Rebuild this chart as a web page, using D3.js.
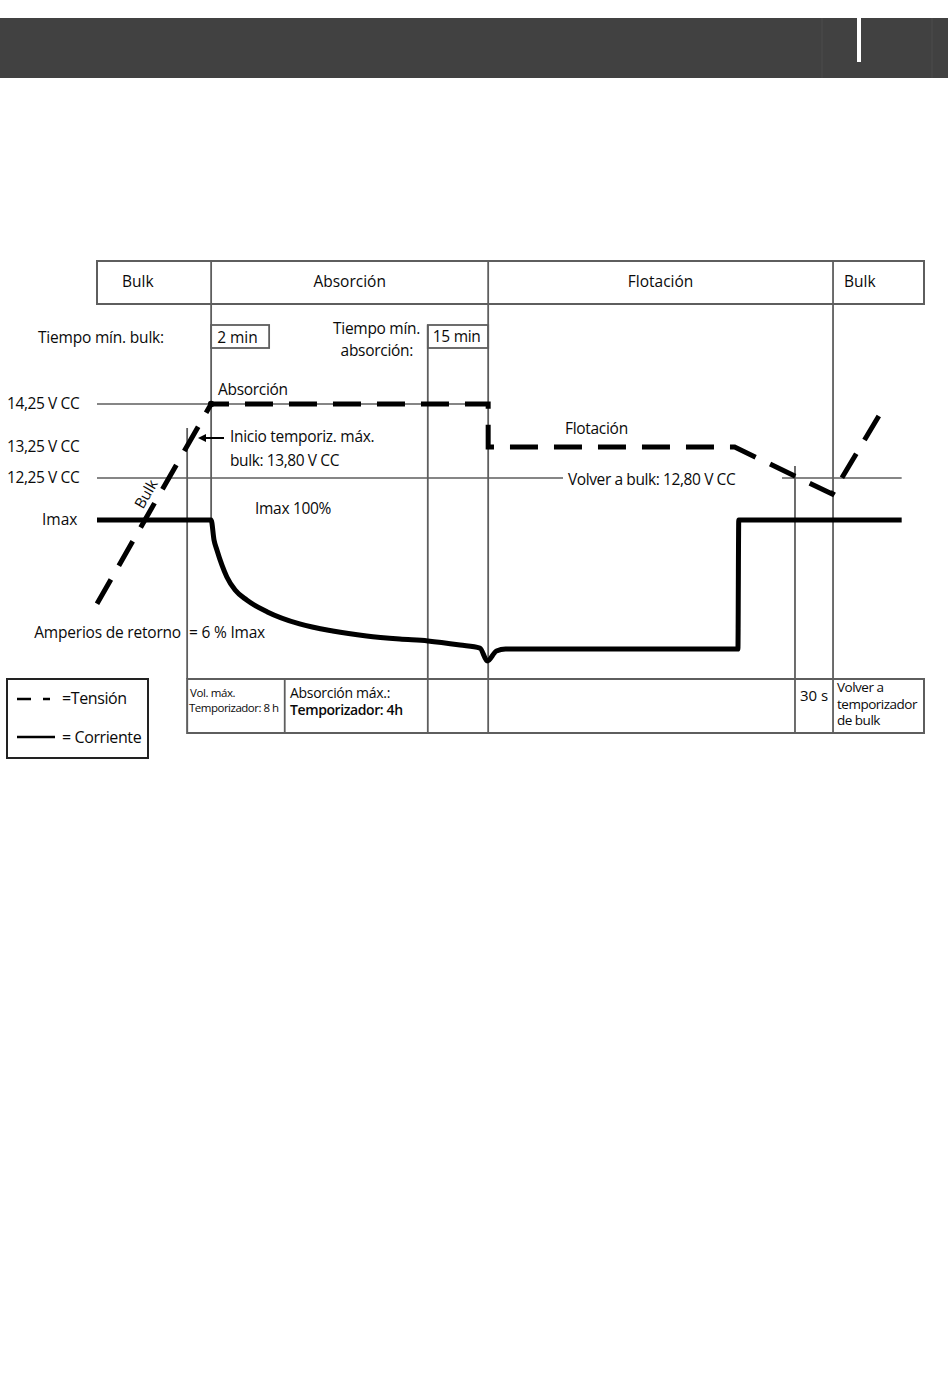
<!DOCTYPE html>
<html>
<head>
<meta charset="utf-8">
<script src="https://cdn.jsdelivr.net/npm/d3@7"></script>
<style>
  body { margin: 0; background: #fff; }
  svg text { font-family: "Open Sans", "Noto Sans", sans-serif; fill: #0a0a0a; }
</style>
</head>
<body>
<div id="chart"></div>
<script>
// stages along the time axis (time in arbitrary units 0..100)
var stageNames = ['Bulk', 'Absorción', 'Flotación', 'Bulk'];
var stageBounds = [0, 13.8, 47.3, 89.0, 100];

// voltage levels on the left
var voltLevels = [14.25, 13.25, 12.25];
var voltLabels = ['14,25 V CC', '13,25 V CC', '12,25 V CC'];

// voltage (dashed line)
var voltTime = [0, 13.8, 47.3, 47.3, 77.1, 88.9, 95.4];
var voltValue = [8.19, 14.25, 14.25, 13.25, 13.25, 11.73, 14.25];

// current in % of Imax (solid line)
var currTime = [0, 13.8, 14.15, 14.5, 15.1, 15.7, 16.7, 18.1, 20.6, 24.5, 28.5, 32.6, 36.6, 40.0, 43.9, 46.3, 47.2, 48.3, 49.4, 77.5, 77.6, 97.3];
var currPct = [100, 100, 86.2, 79.3, 69, 60.7, 51.7, 44.8, 36.6, 28.3, 23.4, 20, 17.9, 16.6, 13.8, 11.7, 2.8, 9.7, 11, 11, 100, 100];

// timer table at the bottom
var timerBounds = [10.9, 22.7, 40.0, 47.3, 84.4, 89.0, 100];

var width = 950, height = 1392;
var svg = d3.select('#chart').append('svg')
    .attr('width', width)
    .attr('height', height);

var x = d3.scaleLinear().domain([0, 100]).range([97, 924]);
var yV = d3.scaleLinear().domain([12.25, 13.25, 14.25]).range([478, 447, 404]);
var yI = d3.scaleLinear().domain([0, 100]).range([665, 520]);

var grey = '#5e5e5e';
var fs = 15.5;
var tableTop = 679, tableBottom = 733;

// header bar
svg.append('rect').attr('x', 0).attr('y', 18).attr('width', 948).attr('height', 60).attr('fill', '#414141');
svg.append('line').attr('x1', 822).attr('x2', 822).attr('y1', 18).attr('y2', 78).attr('stroke', '#4c4c4c');
svg.append('line').attr('x1', 932).attr('x2', 932).attr('y1', 18).attr('y2', 78).attr('stroke', '#4c4c4c');
svg.append('rect').attr('x', 857).attr('y', 18).attr('width', 4).attr('height', 44).attr('fill', '#fff');

// stage row
var rowTop = 261, rowH = 43;
svg.append('rect')
    .attr('x', x(0)).attr('y', rowTop)
    .attr('width', x(100) - x(0)).attr('height', rowH)
    .attr('fill', 'none').attr('stroke', grey).attr('stroke-width', 2);

// first divider stops where the current starts to fall
svg.append('g').selectAll('line')
    .data(stageBounds.slice(1, -1))
    .enter().append('line')
    .attr('x1', function (d) { return x(d); })
    .attr('x2', function (d) { return x(d); })
    .attr('y1', rowTop)
    .attr('y2', function (d, i) { return i === 0 ? yI(100) : tableTop; })
    .attr('stroke', grey).attr('stroke-width', 1.8);

var stageLabelX = [122, null, null, 844];
svg.append('g').selectAll('text')
    .data(stageNames)
    .enter().append('text')
    .attr('x', function (d, i) {
        return stageLabelX[i] !== null ? stageLabelX[i] : (x(stageBounds[i]) + x(stageBounds[i + 1])) / 2;
    })
    .attr('y', 287)
    .attr('text-anchor', function (d, i) { return stageLabelX[i] !== null ? 'start' : 'middle'; })
    .attr('font-size', fs)
    .text(function (d) { return d; });

// other vertical guides
var guides = [[10.9, 428], [40.0, 325], [84.4, 466]];
svg.append('g').selectAll('line')
    .data(guides)
    .enter().append('line')
    .attr('x1', function (d) { return x(d[0]); })
    .attr('x2', function (d) { return x(d[0]); })
    .attr('y1', function (d) { return d[1]; })
    .attr('y2', tableTop)
    .attr('stroke', grey).attr('stroke-width', 1.8);

// horizontal voltage reference lines
svg.append('line').attr('x1', x(0)).attr('x2', x(47.3)).attr('y1', yV(14.25)).attr('y2', yV(14.25))
    .attr('stroke', grey).attr('stroke-width', 1.6);
svg.append('line').attr('x1', x(0)).attr('x2', 563).attr('y1', yV(12.25)).attr('y2', yV(12.25))
    .attr('stroke', grey).attr('stroke-width', 1.6);
svg.append('line').attr('x1', 782).attr('x2', x(97.3)).attr('y1', yV(12.25)).attr('y2', yV(12.25))
    .attr('stroke', grey).attr('stroke-width', 1.6);

// voltage labels
svg.append('g').selectAll('text')
    .data(voltLevels)
    .enter().append('text')
    .attr('x', 7)
    .attr('y', function (d) { return yV(d) + 5; })
    .attr('font-size', 15.5)
    .attr('letter-spacing', -0.4)
    .text(function (d, i) { return voltLabels[i]; });

svg.append('text').attr('x', 42).attr('y', yI(100) + 5).attr('font-size', fs).text('Imax');

// min-time boxes
svg.append('text').attr('x', 38).attr('y', 343).attr('font-size', fs).attr('letter-spacing', -0.2).text('Tiempo mín. bulk:');
svg.append('rect').attr('x', x(13.8)).attr('y', 325).attr('width', 58).attr('height', 23)
    .attr('fill', 'none').attr('stroke', grey).attr('stroke-width', 1.8);
svg.append('text').attr('x', x(13.8) + 6).attr('y', 343).attr('font-size', fs).text('2 min');

svg.append('text').attr('x', 420).attr('y', 334).attr('font-size', fs).attr('text-anchor', 'end').attr('letter-spacing', -0.3).text('Tiempo mín.');
svg.append('text').attr('x', 413).attr('y', 356).attr('font-size', fs).attr('text-anchor', 'end').attr('letter-spacing', -0.3).text('absorción:');
svg.append('rect').attr('x', x(40.0)).attr('y', 325).attr('width', x(47.3) - x(40.0)).attr('height', 23)
    .attr('fill', 'none').attr('stroke', grey).attr('stroke-width', 1.8);
svg.append('text').attr('x', x(40.0) + 5).attr('y', 342).attr('font-size', fs).attr('letter-spacing', -0.3).text('15 min');

// current line
var lineI = d3.line()
    .x(function (d) { return x(d[0]); })
    .y(function (d) { return yI(d[1]); })
    .curve(d3.curveMonotoneX);
svg.append('path')
    .datum(d3.zip(currTime, currPct))
    .attr('d', lineI)
    .attr('fill', 'none').attr('stroke', '#000').attr('stroke-width', 5)
    .attr('stroke-linejoin', 'miter');

// voltage line
var lineV = d3.line()
    .x(function (d) { return x(d[0]); })
    .y(function (d) { return yV(d[1]); });
svg.append('path')
    .datum(d3.zip(voltTime, voltValue))
    .attr('d', lineV)
    .attr('fill', 'none').attr('stroke', '#000').attr('stroke-width', 5)
    .attr('stroke-dasharray', '28,16');
svg.append('circle').attr('cx', x(13.8)).attr('cy', yV(14.25)).attr('r', 3.2).attr('fill', '#000');

// annotations
svg.append('text').attr('x', 218).attr('y', 395).attr('font-size', fs).attr('letter-spacing', -0.3).text('Absorción');
svg.append('text').attr('x', 230).attr('y', 442).attr('font-size', fs).attr('letter-spacing', -0.3).text('Inicio temporiz. máx.');
svg.append('text').attr('x', 230).attr('y', 466).attr('font-size', fs).attr('letter-spacing', -0.4).text('bulk: 13,80 V CC');
svg.append('line').attr('x1', 224).attr('x2', 204).attr('y1', 438).attr('y2', 438).attr('stroke', '#000').attr('stroke-width', 2);
svg.append('path').attr('d', 'M198,438 L206,434 L206,442 Z').attr('fill', '#000');
svg.append('text').attr('x', 255).attr('y', 514).attr('font-size', fs).attr('letter-spacing', -0.3).text('Imax 100%');
svg.append('text').attr('x', 565).attr('y', 434).attr('font-size', fs).attr('letter-spacing', -0.3).text('Flotación');
svg.append('text').attr('x', 568).attr('y', 485).attr('font-size', fs).attr('letter-spacing', -0.4).text('Volver a bulk: 12,80 V CC');
svg.append('text').attr('transform', 'translate(146,494) rotate(-60)').attr('text-anchor', 'middle')
    .attr('dy', '0.35em').attr('font-size', 15).text('Bulk');
svg.append('text').attr('x', 181).attr('y', 638).attr('font-size', fs).attr('text-anchor', 'end').attr('letter-spacing', -0.2).text('Amperios de retorno');
svg.append('text').attr('x', 189).attr('y', 638).attr('font-size', fs).attr('letter-spacing', -0.2).text('= 6 % Imax');

// timer table
svg.append('rect')
    .attr('x', x(timerBounds[0])).attr('y', tableTop)
    .attr('width', x(100) - x(timerBounds[0])).attr('height', tableBottom - tableTop)
    .attr('fill', 'none').attr('stroke', grey).attr('stroke-width', 2);
svg.append('g').selectAll('line')
    .data(timerBounds.slice(1, -1))
    .enter().append('line')
    .attr('x1', function (d) { return x(d); })
    .attr('x2', function (d) { return x(d); })
    .attr('y1', tableTop).attr('y2', tableBottom)
    .attr('stroke', grey).attr('stroke-width', 1.8);

svg.append('text').attr('x', 190).attr('y', 697).attr('font-size', 11.5).attr('letter-spacing', -0.4).text('Vol. máx.');
svg.append('text').attr('x', 189).attr('y', 712).attr('font-size', 11.5).attr('letter-spacing', -0.5).text('Temporizador: 8 h');
svg.append('text').attr('x', 290).attr('y', 698).attr('font-size', 14).attr('letter-spacing', -0.3).text('Absorción máx.:');
svg.append('text').attr('x', 290).attr('y', 715).attr('font-size', 14).attr('font-weight', 600).attr('letter-spacing', -0.4).text('Temporizador: 4h');
svg.append('text').attr('x', 800).attr('y', 701).attr('font-size', 15).text('30 s');
svg.append('text').attr('x', 837).attr('y', 692).attr('font-size', 13.5).attr('letter-spacing', -0.5).text('Volver a');
svg.append('text').attr('x', 837).attr('y', 708.5).attr('font-size', 13.5).attr('letter-spacing', -0.5).text('temporizador');
svg.append('text').attr('x', 837).attr('y', 725).attr('font-size', 13.5).attr('letter-spacing', -0.5).text('de bulk');

// legend
svg.append('rect').attr('x', 7).attr('y', 679).attr('width', 141).attr('height', 79)
    .attr('fill', 'none').attr('stroke', '#222').attr('stroke-width', 2);
svg.append('line').attr('x1', 17).attr('x2', 31).attr('y1', 699).attr('y2', 699).attr('stroke', '#000').attr('stroke-width', 2.5);
svg.append('line').attr('x1', 43).attr('x2', 50).attr('y1', 699).attr('y2', 699).attr('stroke', '#000').attr('stroke-width', 2.5);
svg.append('text').attr('x', 62).attr('y', 704).attr('font-size', 16).attr('letter-spacing', -0.4).text('=Tensión');
svg.append('line').attr('x1', 17).attr('x2', 55).attr('y1', 737).attr('y2', 737).attr('stroke', '#000').attr('stroke-width', 2.5);
svg.append('text').attr('x', 62).attr('y', 743).attr('font-size', 16).attr('letter-spacing', -0.4).text('= Corriente');
</script>
</body>
</html>
